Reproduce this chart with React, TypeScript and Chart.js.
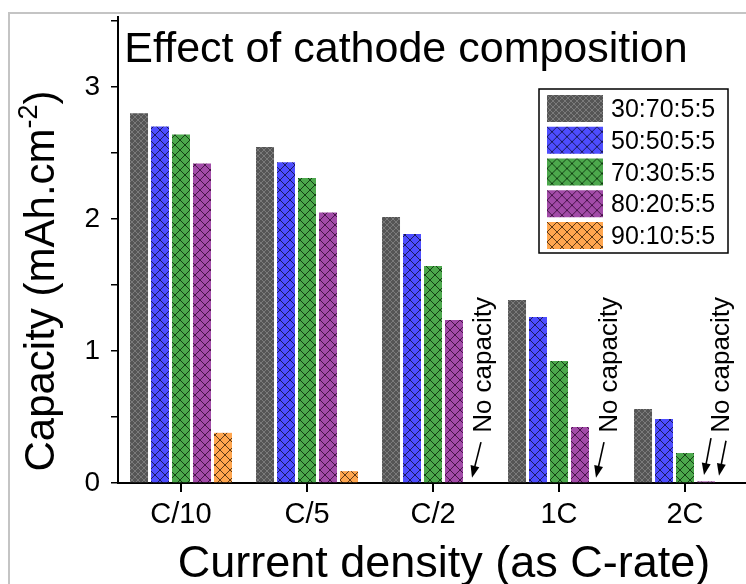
import React, { useEffect, useRef } from 'react';
import { Chart, registerables } from 'chart.js';

Chart.register(...registerables);

const categories = ['C/10', 'C/5', 'C/2', '1C', '2C'];
const seriesLabels = ['30:70:5:5', '50:50:5:5', '70:30:5:5', '80:20:5:5', '90:10:5:5'];
const comp30_70 = [2.8, 2.545, 2.015, 1.386, 0.56];
const comp50_50 = [2.7, 2.43, 1.886, 1.258, 0.485];
const comp70_30 = [2.64, 2.31, 1.644, 0.924, 0.227];
const comp80_20 = [2.42, 2.05, 1.235, 0.424, 0.012];
const comp90_10 = [0.38, 0.09, null, null, null];
const yTickValues = [0, 0.5, 1, 1.5, 2, 2.5, 3, 3.5];

const FONT = '"Liberation Sans", Arial, sans-serif';

function makePattern(base: string, line: string, size: number, lw: number) {
  const c = document.createElement('canvas');
  c.width = size;
  c.height = size;
  const g = c.getContext('2d')!;
  g.fillStyle = base;
  g.fillRect(0, 0, size, size);
  g.strokeStyle = line;
  g.lineWidth = lw;
  g.beginPath();
  for (const o of [-size, 0, size]) {
    g.moveTo(o - 1, -1);
    g.lineTo(o + size + 1, size + 1);
    g.moveTo(o + size + 1, -1);
    g.lineTo(o - 1, size + 1);
  }
  g.stroke();
  return g.createPattern(c, 'repeat')!;
}

const annotations = [
  { cat: 2, textDx: 58, arrows: [[48, 0.31, 39, 0.04]] },
  { cat: 3, textDx: 58, arrows: [[45, 0.31, 37, 0.04]] },
  { cat: 4, textDx: 44, arrows: [[26, 0.34, 19, 0.06], [41, 0.32, 34, 0.055]] },
];

function drawArrow(ctx: CanvasRenderingContext2D, x1: number, y1: number, x2: number, y2: number) {
  const ang = Math.atan2(y2 - y1, x2 - x1);
  const hl = 12;
  const hw = 4.5;
  ctx.beginPath();
  ctx.moveTo(x1, y1);
  ctx.lineTo(x2 - Math.cos(ang) * hl * 0.8, y2 - Math.sin(ang) * hl * 0.8);
  ctx.lineWidth = 1.6;
  ctx.strokeStyle = '#000';
  ctx.stroke();
  ctx.beginPath();
  ctx.moveTo(x2, y2);
  ctx.lineTo(x2 - Math.cos(ang) * hl + Math.sin(ang) * hw, y2 - Math.sin(ang) * hl - Math.cos(ang) * hw);
  ctx.lineTo(x2 - Math.cos(ang) * hl - Math.sin(ang) * hw, y2 - Math.sin(ang) * hl + Math.cos(ang) * hw);
  ctx.closePath();
  ctx.fillStyle = '#000';
  ctx.fill();
}

const decorPlugin = {
  id: 'decor',
  beforeDraw(chart: any) {
    const ctx = chart.ctx as CanvasRenderingContext2D;
    ctx.save();
    ctx.fillStyle = '#fff';
    ctx.fillRect(0, 0, chart.width, chart.height);
    ctx.strokeStyle = '#c4c4c4';
    ctx.lineWidth = 2;
    ctx.beginPath();
    ctx.moveTo(9, chart.height + 5);
    ctx.lineTo(9, 13);
    ctx.lineTo(chart.width + 5, 13);
    ctx.stroke();
    ctx.restore();
  },
  afterDraw(chart: any) {
    const ctx = chart.ctx as CanvasRenderingContext2D;
    const xs = chart.scales.x;
    const ys = chart.scales.y;
    ctx.save();
    ctx.fillStyle = '#000';

    // Title
    ctx.font = `43px ${FONT}`;
    ctx.textAlign = 'center';
    ctx.textBaseline = 'alphabetic';
    ctx.fillText('Effect of cathode composition', 406, 62);

    // X title
    ctx.font = `45px ${FONT}`;
    ctx.fillText('Current density (as C-rate)', 444, 577);

    // Y title with superscript
    ctx.save();
    ctx.translate(54, 281);
    ctx.rotate(-Math.PI / 2);
    ctx.textAlign = 'left';
    const main = 'Capacity (mAh.cm';
    const sup = '-2';
    const close = ')';
    ctx.font = `42px ${FONT}`;
    const w1 = ctx.measureText(main).width;
    const w3 = ctx.measureText(close).width;
    ctx.font = `27px ${FONT}`;
    const w2 = ctx.measureText(sup).width;
    const x0 = -(w1 + w2 + w3) / 2;
    ctx.font = `42px ${FONT}`;
    ctx.fillText(main, x0, 0);
    ctx.font = `27px ${FONT}`;
    ctx.fillText(sup, x0 + w1, -17);
    ctx.font = `42px ${FONT}`;
    ctx.fillText(close, x0 + w1 + w2, 0);
    ctx.restore();

    // Annotations
    for (const a of annotations) {
      const cx = xs.getPixelForValue(a.cat);
      ctx.save();
      ctx.translate(cx + a.textDx, ys.getPixelForValue(0.38));
      ctx.rotate(-Math.PI / 2);
      ctx.font = `26px ${FONT}`;
      ctx.textAlign = 'left';
      ctx.textBaseline = 'alphabetic';
      ctx.fillText('No capacity', 0, 0);
      ctx.restore();
      for (const ar of a.arrows) {
        drawArrow(ctx, cx + ar[0], ys.getPixelForValue(ar[1]), cx + ar[2], ys.getPixelForValue(ar[3]));
      }
    }

    // Legend
    const lx = 539, ly = 89, lw = 189, lh = 164;
    ctx.fillStyle = '#fff';
    ctx.fillRect(lx, ly, lw, lh);
    ctx.strokeStyle = '#000';
    ctx.lineWidth = 1.5;
    ctx.strokeRect(lx, ly, lw, lh);
    ctx.font = `25px ${FONT}`;
    ctx.textAlign = 'left';
    ctx.textBaseline = 'alphabetic';
    chart.data.datasets.forEach((ds: any, i: number) => {
      const top = 95 + i * 31.75;
      ctx.save();
      ctx.translate(547, top);
      ctx.fillStyle = ds.backgroundColor;
      ctx.fillRect(0, 0, 56, 27);
      ctx.restore();
      ctx.fillStyle = '#000';
      ctx.fillText(ds.label, 611, top + 22);
    });
    ctx.restore();
  },
};

export default function App() {
  const ref = useRef<HTMLCanvasElement>(null);
  useEffect(() => {
    const canvas = ref.current!;
    const patterns = [
      makePattern('#555555', '#7a7a7a', 6, 1),
      makePattern('#4d4dff', 'rgba(10,10,40,0.75)', 10, 1),
      makePattern('#4ca84c', 'rgba(0,30,0,0.75)', 10, 1),
      makePattern('#a24ba8', 'rgba(40,0,40,0.75)', 10, 1),
      makePattern('#ffa64f', 'rgba(40,20,0,0.75)', 10, 1),
    ];
    const seriesData = [comp30_70, comp50_50, comp70_30, comp80_20, comp90_10];
    const chart = new Chart(canvas, {
      type: 'bar',
      data: {
        labels: categories,
        datasets: seriesLabels.map((label, i) => ({
          label,
          data: seriesData[i] as any,
          backgroundColor: patterns[i] as any,
          borderWidth: 0,
          categoryPercentage: 0.833,
          barPercentage: 0.857,
        })),
      },
      options: {
        responsive: false,
        animation: false,
        devicePixelRatio: 1,
        layout: { padding: { top: 17, left: 0, right: 0, bottom: 0 } },
        plugins: {
          legend: { display: false },
          title: { display: false },
          tooltip: { enabled: false },
        },
        scales: {
          x: {
            offset: true,
            grid: {
              offset: false,
              drawOnChartArea: false,
              drawTicks: true,
              tickLength: 9,
              color: '#000',
              lineWidth: 2,
            },
            border: { display: true, color: '#000', width: 2 },
            ticks: {
              color: '#000',
              font: { family: FONT, size: 29 },
              padding: 6,
              maxRotation: 0,
            },
            afterFit: (s: any) => {
              s.height = 101;
              s.paddingLeft = 0;
              s.paddingRight = 0;
            },
          },
          y: {
            min: 0,
            max: 3.53,
            grid: {
              drawOnChartArea: false,
              drawTicks: true,
              tickLength: 7,
              color: '#000',
              lineWidth: 1.5,
            },
            border: { display: true, color: '#000', width: 2 },
            afterBuildTicks: (s: any) => {
              s.ticks = yTickValues.map((v) => ({ value: v }));
            },
            ticks: {
              color: '#000',
              font: { family: FONT, size: 28 },
              padding: 11,
              callback: (v: any) => (Number.isInteger(Number(v)) ? String(v) : ''),
            },
            afterFit: (s: any) => {
              s.width = 118;
              s.paddingTop = 0;
              s.paddingBottom = 0;
            },
          },
        },
      },
      plugins: [decorPlugin],
    });
    return () => chart.destroy();
  }, []);

  return (
    <div
      style={{
        position: 'fixed',
        left: 0,
        top: 0,
        width: 746,
        height: 584,
        overflow: 'hidden',
        background: '#fff',
      }}
    >
      <canvas ref={ref} width={748} height={584} style={{ display: 'block' }} />
    </div>
  );
}
